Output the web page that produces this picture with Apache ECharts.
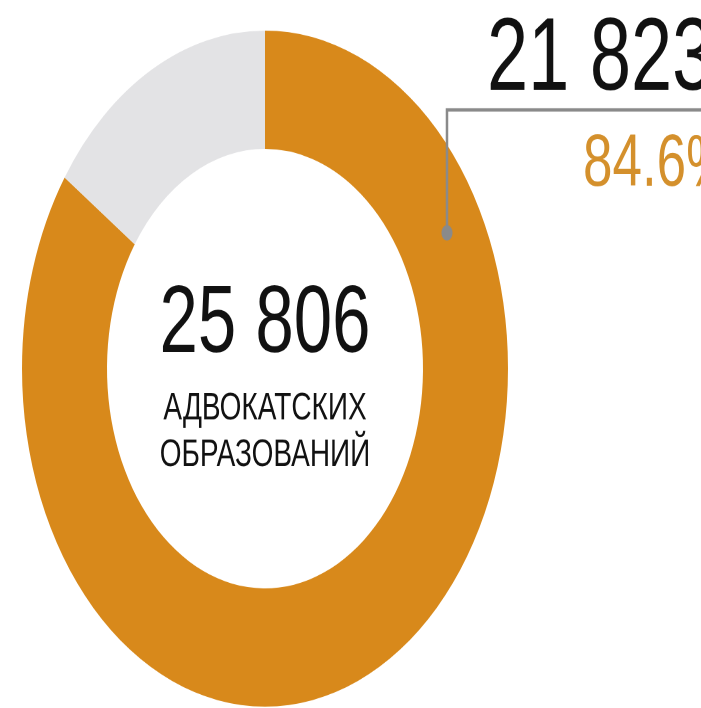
<!DOCTYPE html>
<html>
<head>
<meta charset="utf-8">
<script src="https://cdn.jsdelivr.net/npm/echarts@6/dist/echarts.min.js"></script>
<style>
  html, body { margin:0; padding:0; background:#fff; overflow:hidden; width:701px; height:708px; }
  #chart { width:900px; height:509px; transform: scaleY(1.391); transform-origin: 0 0; }
</style>
</head>
<body>
<div id="chart"></div>
<script>
// ---- data ----
const categories = ['Адвокатские кабинеты', 'Прочие'];
const values = [21823, 3983];
const totalValue = 25806;
const shareLabel = '84.6%';
const centerTitle = '25 806';
const centerSub = ['АДВОКАТСКИХ', 'ОБРАЗОВАНИЙ'];
const colors = ['#D8891B', '#E3E3E5'];

function fmt(n) { return String(n).replace(/\B(?=(\d{3})+(?!\d))/g, ' '); }

const CX = 265, CY = 265, R_OUT = 243, R_IN = 158;
const chart = echarts.init(document.getElementById('chart'), null, { renderer: 'canvas', devicePixelRatio: 2 });

// dot position on the orange ring (angle measured clockwise from 12 o'clock)
const dotAngle = 61.8 * Math.PI / 180;
const dotR = (R_OUT + R_IN) / 2 + 6;
const dotX = CX + dotR * Math.sin(dotAngle);
const dotY = CY - dotR * Math.cos(dotAngle);
const lineY = 79;

chart.setOption({
  animation: false,
  series: [{
    type: 'pie',
    center: [CX, CY],
    radius: [R_IN, R_OUT],
    startAngle: 90,
    clockwise: true,
    avoidLabelOverlap: false,
    silent: true,
    data: categories.map((c, i) => ({
      name: c,
      value: values[i],
      itemStyle: { color: colors[i] },
      label: { show: i === 0 }
    })),
    label: {
      position: 'outside',
      formatter: p => '{a|' + fmt(p.value) + '}\n{b|' + shareLabel + '}',
      rich: {
        a: { fontFamily: 'Liberation Sans, Arial', fontSize: 74, color: '#111', lineHeight: 74 },
        b: { fontFamily: 'Liberation Sans, Arial', fontSize: 53, color: '#D4902C', lineHeight: 64, padding: [12, 0, 0, 96] }
      }
    },
    labelLine: { show: false },
    labelLayout: function (params) {
      if (params.dataIndex !== 0) return {};
      return { x: 487, y: 7, align: 'left', verticalAlign: 'top' };
    }
  }],
  graphic: [
    { type: 'polyline', shape: { points: [[dotX, dotY], [dotX, lineY], [900, lineY]] }, style: { stroke: '#8a8a8a', lineWidth: 2.5, fill: null }, z: 100 },
    { type: 'circle', shape: { cx: dotX, cy: dotY, r: 5.5 }, style: { fill: '#8a8a8a' }, z: 101 },
    { type: 'text', x: CX, y: 234, style: { text: centerTitle, font: '69px "Liberation Sans", Arial', fill: '#111', align: 'center', verticalAlign: 'middle' } },
    { type: 'text', x: CX, y: 294, style: { text: centerSub[0], font: '28px "Liberation Sans", Arial', fill: '#111', align: 'center', verticalAlign: 'middle' } },
    { type: 'text', x: CX, y: 327.5, style: { text: centerSub[1], font: '28px "Liberation Sans", Arial', fill: '#111', align: 'center', verticalAlign: 'middle' } }
  ]
});
</script>
</body>
</html>
